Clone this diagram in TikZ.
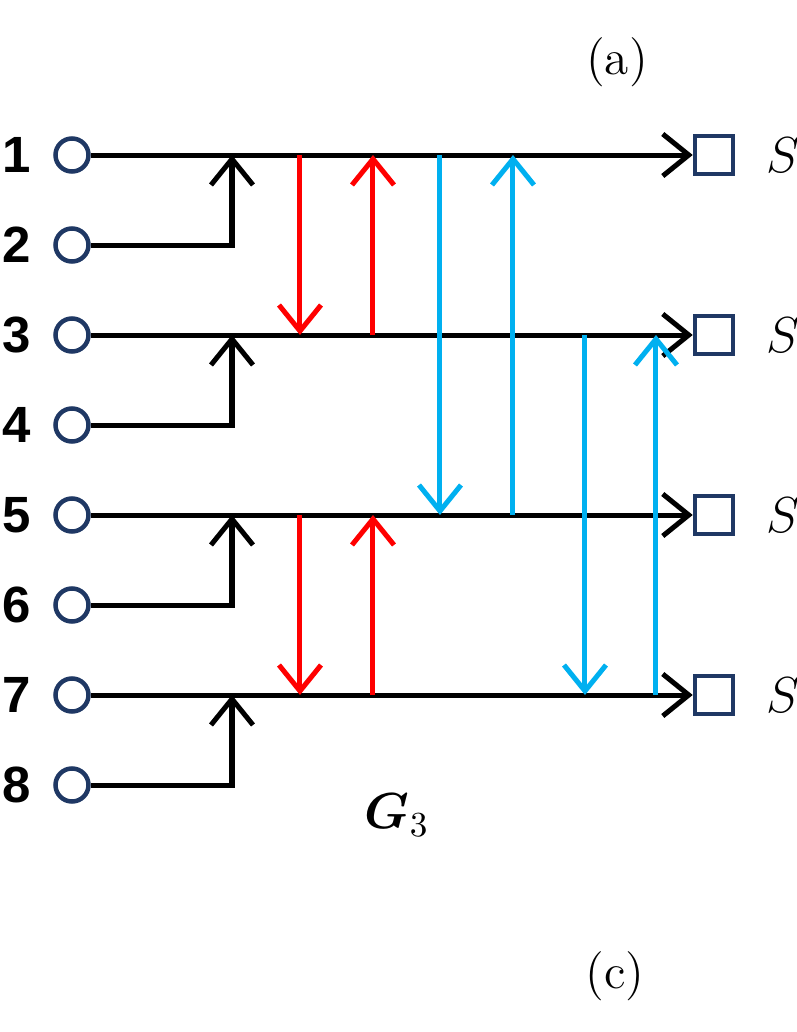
\documentclass[tikz,border=0pt]{standalone}
\usepackage{amsmath}
\usepackage{fontspec}
\newfontfamily\idxfont{Liberation Sans}
\usetikzlibrary{arrows.meta, positioning}
\definecolor{portnavy}{RGB}{31,  56, 100}
\definecolor{swapred} {RGB}{255,  0,   0}
\definecolor{swapblue}{RGB}{0,  176, 240}

\begin{document}
\begin{tikzpicture}[
	line width=0.05cm,
	tip/.style={-{Straight Barb[length=2.6mm,width=4.2mm]}},
	port/.style={circle,draw=portnavy,line width=0.045cm,minimum size=0.33cm,inner sep=0pt},
	sink/.style={rectangle,draw=portnavy,line width=0.045cm,minimum size=0.38cm,inner sep=0pt},
	idx/.style={font=\idxfont\bfseries\fontsize{14.5}{16}\selectfont,inner sep=0pt},
	tag/.style={font=\fontsize{14}{16}\selectfont}
]
	\useasboundingbox (0,0) rectangle (7.97,10.32);
	% inputs
	\node[port] (in1) at (0.72,8.77) {};
	\node[port] (in2) at (0.72,7.87) {};
	\node[port] (in3) at (0.72,6.97) {};
	\node[port] (in4) at (0.72,6.07) {};
	\node[port] (in5) at (0.72,5.17) {};
	\node[port] (in6) at (0.72,4.27) {};
	\node[port] (in7) at (0.72,3.37) {};
	\node[port] (in8) at (0.72,2.47) {};
	\node[idx,left=0.2cm of in1] (n1) {1};
	\node[idx,left=0.2cm of in2] (n2) {2};
	\node[idx,left=0.2cm of in3] (n3) {3};
	\node[idx,left=0.2cm of in4] (n4) {4};
	\node[idx,left=0.2cm of in5] (n5) {5};
	\node[idx,left=0.2cm of in6] (n6) {6};
	\node[idx,left=0.2cm of in7] (n7) {7};
	\node[idx,left=0.2cm of in8] (n8) {8};
	% outputs
	\node[sink] (out1) at (7.14,8.77) {};
	\node[sink] (out2) at (7.14,6.97) {};
	\node[sink] (out3) at (7.14,5.17) {};
	\node[sink] (out4) at (7.14,3.37) {};
	\node[tag,anchor=west,inner sep=0pt] (s1) at (7.64,8.77) {$S$};
	\node[tag,anchor=west,inner sep=0pt] (s2) at (7.64,6.97) {$S$};
	\node[tag,anchor=west,inner sep=0pt] (s3) at (7.64,5.17) {$S$};
	\node[tag,anchor=west,inner sep=0pt] (s4) at (7.64,3.37) {$S$};
	% columns
	\coordinate (mx)  at (2.32,0);
	\coordinate (xr1) at (3.00,0);
	\coordinate (xr2) at (3.73,0);
	\coordinate (xb1) at (4.40,0);
	\coordinate (xb2) at (5.13,0);
	\coordinate (xb3) at (5.85,0);
	\coordinate (xb4) at (6.56,0);
	% main lines
	\draw[tip] (in1) -- (out1);
	\draw[tip] (in3) -- (out2);
	\draw[tip] (in5) -- (out3);
	\draw[tip] (in7) -- (out4);
	\draw[tip] (in2) -| (mx |- in1);
	\draw[tip] (in4) -| (mx |- in3);
	\draw[tip] (in6) -| (mx |- in5);
	\draw[tip] (in8) -| (mx |- in7);
	% swaps
	\draw[tip,swapred] (xr1 |- in1) -- (xr1 |- in3);
	\draw[tip,swapred] (xr2 |- in3) -- (xr2 |- in1);
	\draw[tip,swapred] (xr1 |- in5) -- (xr1 |- in7);
	\draw[tip,swapred] (xr2 |- in7) -- (xr2 |- in5);
	\draw[tip,swapblue] (xb1 |- in1) -- (xb1 |- in5);
	\draw[tip,swapblue] (xb2 |- in5) -- (xb2 |- in1);
	\draw[tip,swapblue] (xb3 |- in3) -- (xb3 |- in7);
	\draw[tip,swapblue] (xb4 |- in7) -- (xb4 |- in3);
	\node[tag] (g3) at (3.97,2.17) {$\boldsymbol{G}_3$};
	\node[tag] (capa) at (6.17,9.70) {(a)};
	\node[tag] (capc) at (6.15,0.56) {(c)};
\end{tikzpicture}
\end{document}
